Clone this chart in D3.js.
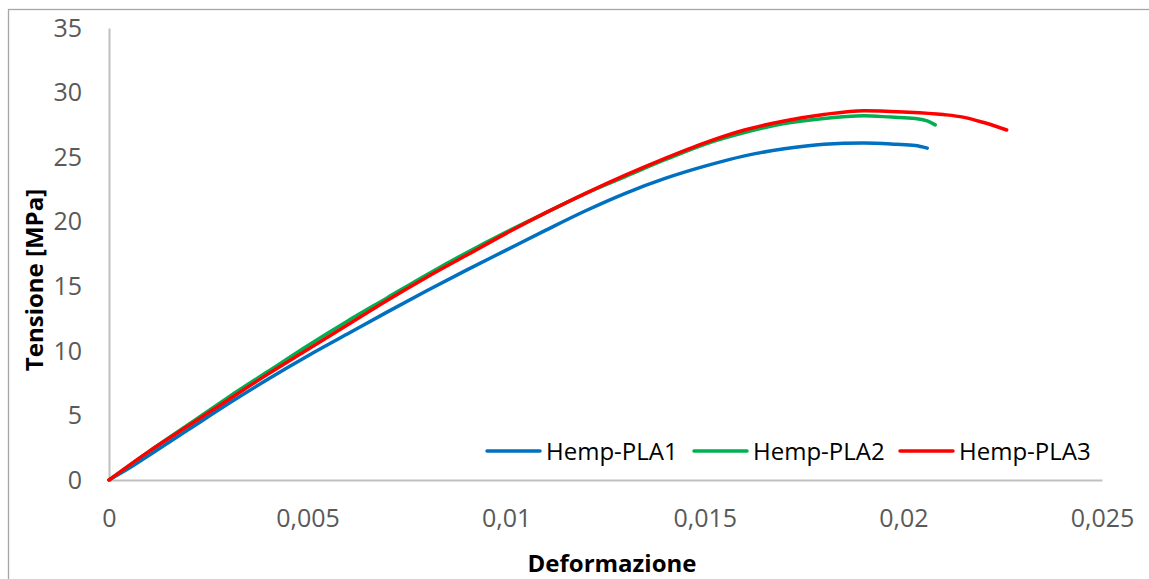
<!DOCTYPE html>
<html><head><meta charset="utf-8">
<script src="https://cdn.jsdelivr.net/npm/d3@7"></script>
<style>body{margin:0;background:#fff}svg{display:block}</style>
</head><body>
<script>
const seriesNames = ["Hemp-PLA1", "Hemp-PLA2", "Hemp-PLA3"];
const seriesColors = ["#0070C0", "#00B050", "#FF0000"];
const xTicks = [0, 0.005, 0.01, 0.015, 0.02, 0.025];
const xTickLabels = ["0", "0,005", "0,01", "0,015", "0,02", "0,025"];
const yTicks = [0, 5, 10, 15, 20, 25, 30, 35];

const strain1 = [0,0.0005,0.001,0.0015,0.002,0.003,0.004,0.005,0.006,0.007,0.008,0.009,0.010,0.011,0.012,0.013,0.014,0.015,0.016,0.017,0.018,0.019,0.0198,0.0203,0.0206];
const stress1 = [0,0.9,1.9,2.9,3.9,5.9,7.8,9.6,11.3,13.0,14.65,16.25,17.8,19.35,20.85,22.2,23.35,24.3,25.1,25.65,26.0,26.1,26.0,25.9,25.7];

const strain2 = [0,0.001,0.002,0.003,0.004,0.005,0.006,0.007,0.008,0.009,0.010,0.011,0.012,0.013,0.014,0.015,0.016,0.017,0.018,0.019,0.0197,0.0203,0.0206,0.0208];
const stress2 = [0,2.2,4.3,6.4,8.4,10.4,12.3,14.1,15.9,17.6,19.2,20.7,22.2,23.5,24.8,26.0,26.9,27.6,28.0,28.2,28.1,28.0,27.8,27.5];

const strain3 = [0,0.001,0.002,0.003,0.004,0.005,0.006,0.007,0.008,0.009,0.010,0.011,0.012,0.013,0.014,0.015,0.016,0.017,0.018,0.019,0.020,0.021,0.0215,0.022,0.0226];
const stress3 = [0,2.2,4.2,6.2,8.2,10.1,12.0,13.9,15.7,17.4,19.1,20.7,22.2,23.6,24.9,26.1,27.1,27.8,28.3,28.6,28.5,28.3,28.1,27.7,27.1];

const W = 1149, H = 579;
const svg = d3.select("body").append("svg").attr("width", W).attr("height", H);
const font = "'Open Sans', sans-serif";

svg.append("rect").attr("x", 8.5).attr("y", 9.5).attr("width", 1200).attr("height", 600)
  .attr("fill", "none").attr("stroke", "#a6a6a6").attr("stroke-width", 1.3);

const x = d3.scaleLinear().domain([0, 0.025]).range([109, 1102]);
const y = d3.scaleLinear().domain([0, 35]).range([480, 28]);

// axes
const xAxis = svg.append("g").attr("transform", "translate(0,480)")
  .call(d3.axisBottom(x).tickValues(xTicks).tickSize(0).tickFormat((d, i) => xTickLabels[i]));
xAxis.select(".domain").attr("stroke", "#c0c0c0").attr("stroke-width", 2);
xAxis.selectAll("text").attr("font-family", font).attr("font-size", 25).attr("fill", "#595959").attr("dy", 0).attr("y", 47);

const yAxis = svg.append("g").attr("transform", "translate(109,0)")
  .call(d3.axisLeft(y).tickValues(yTicks).tickSize(0));
yAxis.select(".domain").attr("stroke", "#c0c0c0").attr("stroke-width", 2);
yAxis.selectAll("text").attr("font-family", font).attr("font-size", 25).attr("fill", "#595959").attr("x", -27).attr("dy", "0.33em");

// titles
svg.append("text").attr("x", 612).attr("y", 572).attr("text-anchor", "middle")
  .attr("font-family", font).attr("font-weight", "bold").attr("font-size", 24).attr("fill", "#000")
  .text("Deformazione");
svg.append("text").attr("transform", "translate(43,280) rotate(-90)").attr("text-anchor", "middle")
  .attr("font-family", font).attr("font-weight", "bold").attr("font-size", 24).attr("fill", "#000")
  .text("Tensione [MPa]");

// lines
const data = [
  strain1.map((s, i) => [s, stress1[i]]),
  strain2.map((s, i) => [s, stress2[i]]),
  strain3.map((s, i) => [s, stress3[i]])
];
const line = d3.line().x(d => x(d[0])).y(d => y(d[1])).curve(d3.curveMonotoneX);
data.forEach((d, i) => {
  svg.append("path").datum(d).attr("d", line).attr("fill", "none")
    .attr("stroke", seriesColors[i]).attr("stroke-width", 3.5)
    .attr("stroke-linecap", "round").attr("stroke-linejoin", "round");
});

// legend
const legX = [487, 694, 900];
seriesNames.forEach((n, i) => {
  const g = svg.append("g");
  g.append("line").attr("x1", legX[i]).attr("x2", legX[i] + 53).attr("y1", 451).attr("y2", 451)
    .attr("stroke", seriesColors[i]).attr("stroke-width", 3.5).attr("stroke-linecap", "round");
  g.append("text").attr("x", legX[i] + 59).attr("y", 460).attr("font-family", font).attr("font-size", 24)
    .attr("fill", "#000").text(n);
});
</script>
</body></html>
